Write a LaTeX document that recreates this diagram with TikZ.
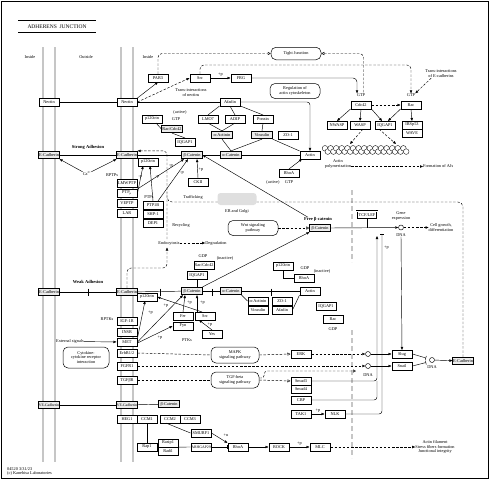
\documentclass[tikz,border=0pt]{standalone}
\usepackage{fontspec}
\setmainfont{Liberation Serif}
\usetikzlibrary{arrows.meta,calc}
\newcommand{\kg}{\fontsize{4.3}{4.9}\selectfont}
\newcommand{\kgs}{\fontsize{3.8}{4.3}\selectfont}
\newcommand{\kb}{\fontsize{4.5}{5}\selectfont\bfseries}
\begin{document}
\begin{tikzpicture}[x=1pt,y=-1pt,
  g/.style={draw,line width=0.5pt,minimum width=20.5pt,minimum height=7.6pt,inner sep=0pt,font=\kg,fill=white},
  gg/.style={g,fill=gray!15,line width=0.65pt},
  pw/.style={draw,rounded corners=5pt,align=center,font=\kg,inner sep=0pt,line width=0.5pt,fill=white},
  lb/.style={font=\kg,inner sep=0pt,align=center},
  bl/.style={font=\kb,inner sep=0pt},
  ln/.style={line width=0.45pt},
  ar/.style={ln,-{Triangle[length=3pt,width=2.4pt]}},
  da/.style={ar,dash pattern=on 2.5pt off 1.6pt},
  ds/.style={ln,dash pattern=on 2.5pt off 1.6pt},
  op/.style={ds,-{Triangle[open,length=3pt,width=3pt]}},
  ih/.style={ln,-{Bar[width=4pt]}},
  mem/.style={line width=0.5pt,draw=gray!60!black,double=gray!45,double distance=1.2pt},
  nuc/.style={line width=2.2pt,draw=gray!45,dash pattern=on 5pt off 3pt},
  cir/.style={draw,circle,minimum size=5pt,inner sep=0pt,line width=0.45pt,fill=white},
]
\useasboundingbox (0,0) rectangle (490,480);
\draw[line width=0.5pt] (1,1) rectangle (488.5,478.5);

% title and region labels
\node[draw,double,double distance=0.7pt,line width=0.55pt,minimum width=77pt,minimum height=10.5pt,inner sep=0pt,font=\fontsize{5.5}{6}\selectfont] (title) at (57,26.5) {ADHERENS\ \ JUNCTION};
\node[lb] (in1) at (30,57) {Inside};
\node[lb] (out) at (86,57) {Outside};
\node[lb] (in2) at (148,57) {Inside};

% membranes and nuclear membrane
\foreach \x in {43,55,121,133} \draw[mem] (\x,47) -- (\x,462);
\draw[nuc] (352,190) -- (352,262);
\draw[nuc] (352,330) -- (352,458);

% left membrane
\node[g] (nL) at (49,102) {Nectin};
\node[gg] (eL1) at (49,155) {E-Cadherin};
\node[gg] (eL2) at (49,292) {E-Cadherin};
\node[gg,font=\kgs] (vL) at (49,405) {VE-Cadherin};

% right membrane
\node[g] (nR) at (127,102) {Nectin};
\node[gg] (eR1) at (127,155) {E-Cadherin};
\node[g] (lmw) at (127,183) {LMWPTP};
\node[g] (ptpm) at (127,193) {PTP\textsubscript{μ}};
\node[g] (veptp) at (127,203) {VEPTP};
\node[g] (lar) at (127,213) {LAR};
\node[gg] (eR2) at (127,292) {E-Cadherin};
\node[g] (igf) at (127,321) {IGF-1R};
\node[g] (insr) at (127,332) {INSR};
\node[g] (met) at (127,342) {MET};
\node[g] (erbb) at (127,353) {ErbB1/2};
\node[g] (fgfr) at (127,366) {FGFR1};
\node[g] (tgfbr) at (127,380) {TGFβR};
\node[gg,font=\kgs] (vR) at (127,405) {VE-Cadherin};
\node[g] (heg) at (127,419) {HEG1};
\node[lb] (rptps) at (112,175) {RPTPs};
\node[lb] (rptks) at (107,319) {RPTKs};

% top
\node[g] (par3) at (158,78) {PAR3};
\node[g] (src) at (200,78) {Src};
\node[g] (frg) at (241,78) {FRG};
\node[pw,minimum width=50pt,minimum height=12.5pt] (tj) at (296,53.5) {Tight Junction};
\node[pw,minimum width=50pt,minimum height=15pt] (reg) at (295,91) {Regulation of\\actin cytoskeleton};
\node[lb] (tnec) at (191,93) {Trans-interactions\\of nectins};
\node[lb] (gtpC) at (361,95) {GTP};
\node[g] (cdc42) at (361,105) {Cdc42};
\node[lb] (gtpR) at (411,95) {GTP};
\node[g] (rac) at (411,105) {Rac};
\node[lb] (tecad) at (441,74) {Trans-interactions\\of E-cadherins};
\node[g] (nwasp) at (337,125) {NWASP};
\node[g] (wasp) at (360,125) {WASP};
\node[g] (iqg1) at (385,125) {IQGAP1};
\node[g] (irsp) at (412,125) {IRSp53};
\node[g] (wave) at (412,133) {WAVE};
\node[lb] (apol) at (338,164) {Actin\\polymerization};
\node[lb,anchor=west] (form) at (423,166.5) {Formation of AJs};

\node[g] (afad) at (230,102) {Afadin};
\node[g] (lmo7) at (208,119) {LMO7};
\node[g] (adip) at (235,119) {ADIP};
\node[g] (pons) at (263,119) {Ponsin};
\node[gg] (aact) at (222,135) {α-Actinin};
\node[gg] (vinc) at (262,135) {Vinculin};
\node[g] (zo1) at (288,135) {ZO-1};
\node[gg] (acat) at (231,155) {α-Catenin};
\node[g] (actin) at (310,155) {Actin};
\node[gg] (bcat) at (192,155) {β-Catenin};
\node[g] (p120s) at (148,162) {p120ctn};
\node[g] (p120u) at (152,119) {p120ctn};
\node[lb] (actv1) at (180,112) {(active)};
\node[lb] (gtp1) at (176,119.5) {GTP};
\node[gg] (racc) at (172,129) {Rac/Cdc42};
\node[g] (iqu) at (185,142) {IQGAP1};
\node[g] (rhoa1) at (289,173) {RhoA};
\node[lb] (actv2) at (273,182) {(active)};
\node[lb] (gtp2) at (289,182) {GTP};
\node[g] (ck2) at (198,182) {CKII};
\node[lb] (ptps) at (149,197.5) {PTPs};
\node[g] (ptp1b) at (153,205) {PTP1B};
\node[g] (shp1) at (153,214) {SHP-1};
\node[g] (dep1) at (153,223) {DEP1};
\node[bl] (strong) at (88,147) {Strong Adhesion};
\node[lb] (ca) at (87,174) {Ca\textsuperscript{2+}};
\node[lb] (traf) at (193,197) {Trafficking};
\node[lb] (erl) at (237,211) {ER and Golgi};
\node[lb] (recy) at (181,225) {Recycling};
\node[lb] (endo) at (169,243) {Endocytosis};
\node[lb] (degr) at (216,243) {Degradation};
\node[pw,minimum width=50pt,minimum height=15pt] (wnt) at (253,228) {Wnt signaling\\pathway};
\node[bl] (freel) at (318,219.5) {Free β-catenin};
\node[gg] (bcatf) at (320,228) {β-Catenin};
\node[g,double,double distance=0.6pt] (tcf) at (367,215) {TCF/LEF};
\node[cir] (dna1) at (401,227.5) {};
\node[lb] (gexp) at (401,216) {Gene\\expression};
\node[lb] (dnal1) at (401,235) {DNA};
\node[lb] (cellg) at (441,227.5) {Cell growth,\\differentiation};

% weak adhesion
\node[bl] (weak) at (88,282) {Weak Adhesion};
\node[g] (p120w) at (147,297) {p120ctn};
\node[gg] (bcatw) at (192,291) {β-Catenin};
\node[gg] (acatw) at (231,291) {α-Catenin};
\node[g] (actinw) at (310,291) {Actin};
\node[g] (iqw) at (197,275) {IQGAP1};
\node[g] (racw) at (204,265) {Rac/Cdc42};
\node[lb] (gdp1) at (203,256) {GDP};
\node[lb] (inact1) at (225,258) {(inactive)};
\node[g] (p120r) at (283,266) {p120ctn};
\node[g] (rhoaw) at (304,278) {RhoA};
\node[lb] (gdp2) at (305,268.5) {GDP};
\node[lb] (inact2) at (322,271) {(inactive)};
\node[g] (aactw) at (258,301) {α-Actinin};
\node[g] (zo1w) at (282,301) {ZO-1};
\node[g] (vincw) at (258,310) {Vinculin};
\node[g] (afadw) at (282,310) {Afadin};
\node[g] (iqr) at (326,306) {IQGAP1};
\node[g] (racr) at (333,319) {Rac};
\node[lb] (gdp3) at (333,329) {GDP};
\node[g] (fer) at (183,316) {Fer};
\node[g] (srcw) at (205,316) {Src};
\node[g] (fyn) at (183,326) {Fyn};
\node[g] (yes) at (212,334) {Yes};
\node[lb] (ptks) at (187,340) {PTKs};
\node[lb] (ext) at (70,341.5) {External signals};
\node[pw,minimum width=46pt,minimum height=21pt] (cyt) at (86,357.5) {Cytokine-\\cytokine receptor\\interaction};
\node[pw,minimum width=48pt,minimum height=16pt] (mapk) at (235,355) {MAPK\\signaling pathway};
\node[g] (erk) at (301,354) {ERK};
\node[pw,minimum width=48pt,minimum height=16pt] (tgf) at (235,380) {TGF-beta\\signaling pathway};
\node[g] (smad3) at (301,381) {Smad3};
\node[g] (smad4) at (301,389) {Smad4};
\node[g] (cbp) at (301,400) {CBP};
\node[g] (tak1) at (301,414) {TAK1};
\node[g] (nlk) at (335,414) {NLK};
\node[cir] (c1) at (368,354) {};
\node[cir] (c2) at (368,366) {};
\node[lb] (dnal2) at (368,375) {DNA};
\node[g] (slug) at (402,354) {Slug};
\node[g] (snail) at (402,366) {Snail};
\node[cir] (c3) at (432,360) {};
\node[lb] (dnal3) at (432,367.5) {DNA};
\node[gg] (ecadr) at (463,361) {E-Cadherin};

% bottom
\node[gg] (bcatv) at (169,404) {β-Catenin};
\node[g] (ccm1) at (147,419) {CCM1};
\node[g] (ccm2) at (170,419) {CCM2};
\node[g] (ccm3) at (190,419) {CCM3};
\node[g] (rap1) at (147,447) {Rap1};
\node[g] (rasip) at (168,443) {Rasip1};
\node[g] (radil) at (168,451) {Radil};
\node[g] (smurf) at (201,433) {SMURF1};
\node[g,font=\kgs] (arhg) at (201,447) {ARHGAP29};
\node[g] (rhoab) at (238,447) {RhoA};
\node[g] (rock) at (279,447) {ROCK};
\node[g] (mlc) at (320,447) {MLC};
\node[lb] (afil) at (435,447) {Actin filament\\Stress fibers formation\\Junctional integrity};
\node[lb,anchor=west,align=left] (foot) at (7,471.5) {04520 3/31/23\\(c) Kanehisa Laboratories};

% actin filament beads
\foreach \i in {0,...,14} {
  \draw[line width=0.35pt,fill=white] (325+\i*5.6,148.3) circle (2.8pt);
  \draw[line width=0.35pt,fill=white] (327.8+\i*5.6,151.6) circle (2.8pt);
}

% coordinates
\coordinate (k1) at (411,65);
\coordinate (bk1) at (350,144);
\coordinate (bk2) at (396,144);
\coordinate (up1) at (377,236);
\coordinate (up2) at (382,233.5);
\coordinate (br1) at (426,358);
\coordinate (br2) at (426,362.5);
\coordinate (ke1) at (167,239);
\coordinate (ke2) at (167,268);
\coordinate (ke3) at (167,247.5);
\coordinate (tg1) at (356,371);

% top connectors
\draw[ln] (nL) -- (nR);
\draw[ln] (nR) -- (afad);
\draw[ar,rounded corners=3pt] (afad.east) -| (actin.north);
\draw[ar] (nR.north east) -- (par3.south);
\draw[da] (nR.east) -- (src.west);
\draw[ar] (src) -- (frg) node[lb,midway,above=1.2pt] {+p};
\draw[op,rounded corners=4pt] (par3.north) |- (tj.west);
\draw[ds,rounded corners=4pt,{Triangle[open,length=3pt,width=3pt]}-] (tj.east) -| ([xshift=2.5pt]gtpC.north);
\draw[ar,rounded corners=4pt] (frg.east) -| ([xshift=-4pt]gtpC.north);
\draw[da,rounded corners=4pt] (src.north) |- (k1) -- (gtpR.north);
\draw[da] ([xshift=6pt]tecad.south west) -- (gtpR.north east);
\draw[da] (cdc42) -- (rac);
\draw[ar] (cdc42.south west) -- (nwasp.north);
\draw[ar] (cdc42.south) -- (wasp.north);
\draw[ar] (cdc42.south east) -- ([xshift=-3pt]iqg1.north);
\draw[ar] (rac.south west) -- ([xshift=3pt]iqg1.north);
\draw[ar] (rac.south) -- (irsp.north);
\draw[da] ([xshift=3pt]wasp.south) -- (bk1);
\draw[da] ([xshift=-6pt]iqg1.south) -- (bk2);
\draw[da] ($(apol.east)+(0,2.5)$) -- (form.west);

\draw[ln] (afad.south west) -- (lmo7.north);
\draw[ln] (afad.south) -- (adip.north);
\draw[ln] (afad.south east) -- (pons.north);
\draw[ln] (lmo7.south) -- (aact.north);
\draw[ln] (adip.south) -- (aact.north);
\draw[ln] (pons.south) -- (vinc.north);
\draw[ln] (aact.south) -- (acat.north);
\draw[ln] (vinc.south) -- (acat.north);
\draw[ln] (vinc.south east) -- (actin.north west);

\draw[ln] (eL1) -- (eR1);
\draw[ln] (eR1) -- (bcat);
\draw[ln] (bcat) -- (acat);
\draw[ln] (acat) -- (actin);
\draw[ar] (ca.north west) -- (eL1.south east);
\draw[ar] (ca.north east) -- (eR1.south west);
\draw[ln] ([xshift=4pt]p120u.south) -- (racc.west);
\draw[ln] (racc.south) -- (iqu.north);
\draw[ar] (rhoa1.north) -- ([xshift=-8pt]actin.south);
\draw[ar] (ck2.north) -- ([xshift=5pt]bcat.south) node[lb,pos=0.45,right=0.8pt] {+p};
\draw[ar] (ptpm.east) -- ([xshift=-5pt]p120s.south);
\draw[ar] (ptp1b.north) -- ([xshift=2pt]p120s.south);
\draw[ar] (ptpm.north east) -- ([xshift=-8pt]bcat.south);
\draw[ar] ([xshift=5pt]ptp1b.north) -- ([xshift=-4pt]bcat.south);
\node[lb] (mp1) at (140.5,177) {-p};
\node[lb] (mp2) at (157.5,177) {-p};
\node[lb] (mp3) at (171,166) {-p};
\node[lb] (mp4) at (182,173) {-p};

% free beta-catenin
\draw[ar] ([xshift=4pt]freel.north west) -- (bcat.east);
\draw[ar] (bcatw.north east) -- (bcatf.south west);
\draw[op] (wnt.east) -- (bcatf.west);
\draw[ar] (bcatf.east) -- (dna1.west);
\draw[ln] (tcf.south) -- (tcf.south |- bcatf.east);
\draw[da] (dna1.east) -- (cellg.west);
\draw[ar] (dnal1.south) -- (slug.north);
\draw[ar,rounded corners=3pt] (smad3.east) -| (up1);
\draw[ln,rounded corners=3pt] (cbp.east) -| (377,381);
\draw[ih,rounded corners=3pt] (nlk.east) -| (up2);
\node[lb] (pnlk) at (386.5,248) {+p};

% trafficking / recycling / endocytosis
\draw[ds,rounded corners=5pt] (ecadr.north) -- (463,202) -- (167,202) -- (167,192);
\node[fill=gray!25,rounded corners=3pt,minimum width=39pt,minimum height=12pt,inner sep=0pt] (er) at (237,199) {};
\draw[da,rounded corners=4pt] (ke1) |- (eR1.north east);
\draw[da,rounded corners=4pt] (eR2.north) |- (ke2) -- (ke3);
\draw[da] (endo.east) -- (degr.west);

% weak adhesion
\draw[ln] (eL2) -- (eR2);
\draw[ln] (eR2) -- (bcatw);
\draw[ln] (bcatw) -- (acatw);
\draw[ln] (acatw) -- (actinw);
\foreach \x in {88,160,212,271} \draw[ln] (\x,288.5) -- (\x,295.5);
\draw[ln] (iqw.south) -- (iqw.south |- bcatw.north);
\draw[ln] (p120r.south) |- (rhoaw.west);
\draw[ln] (acatw.south east) -- (aactw.west);
\draw[ln] (actinw.south west) -- (afadw.east);
\draw[ar] (yes.north) -- ([xshift=-6pt]srcw.south);
\node[lb] (pyes) at (210,325) {+p};
\draw[ar] (fer.north) -- ([xshift=-7pt]bcatw.south);
\draw[ar] ([xshift=-8pt]srcw.north) -- ([xshift=5pt]bcatw.south);
\node[lb] (pfer) at (189.5,303) {+p};
\node[lb] (psrc) at (202.5,303) {+p};
\draw[ar] ([xshift=-3pt]srcw.north) -- (p120w.east);
\node[lb] (psp) at (166,305.5) {+p};
\draw[ar] (met.north east) -- ([xshift=-2pt]p120w.south);
\node[lb] (pm1) at (150.5,313) {+p};
\draw[ar] (met.east) -- ([xshift=-9pt]bcatw.south);
\draw[ar] ([yshift=-1pt]met.east) -- (fyn.west);
\node[lb] (pm2) at (160,337.5) {+p};
\draw[ar] (ext) -- (met);

% signaling
\draw[ds] (erbb.east) -- (mapk.west);
\draw[op] (mapk.east) -- (erk.west);
\draw[da] (erk.east) -- (c1.west);
\draw[da] (fgfr.east) -- (c2.west);
\draw[ds] (tgfbr.east) -- (tgf.west);
\draw[op] (tgf.east) -- (smad3.west);
\draw[op,rounded corners=3pt] ([yshift=2pt]tgf.east) -- ++(5,0) |- (tg1);
\draw[ar] (c1) -- (slug);
\draw[ar] (c2) -- (snail);
\draw[ih] (slug.east) -- (br1);
\draw[ih] (snail.east) -- (br2);
\draw[ar] (c3) -- (ecadr);
\draw[ar] (tak1) -- (nlk) node[lb,midway,above=1.2pt] {+p};

% VE-cadherin and bottom
\draw[ln] (vL) -- (vR);
\draw[ln] (vR) -- (bcatv);
\draw[ln] (ccm1.south) -- (rap1.north);
\draw[ln] ([xshift=-4pt]ccm2.south) -- (smurf.west);
\draw[ln] (rasip.south east) -- (arhg.west);
\draw[ih] (arhg.east) -- (rhoab.west);
\draw[ar] (smurf.east) -- (rhoab.north west);
\node[lb] (pu) at (226,435) {+u};
\draw[ar] (rhoab) -- (rock);
\draw[ar] (rock) -- (mlc) node[lb,midway,above=1.2pt] {+p};
\draw[da] (mlc.east) -- (afil.west);
\end{tikzpicture}
\end{document}
